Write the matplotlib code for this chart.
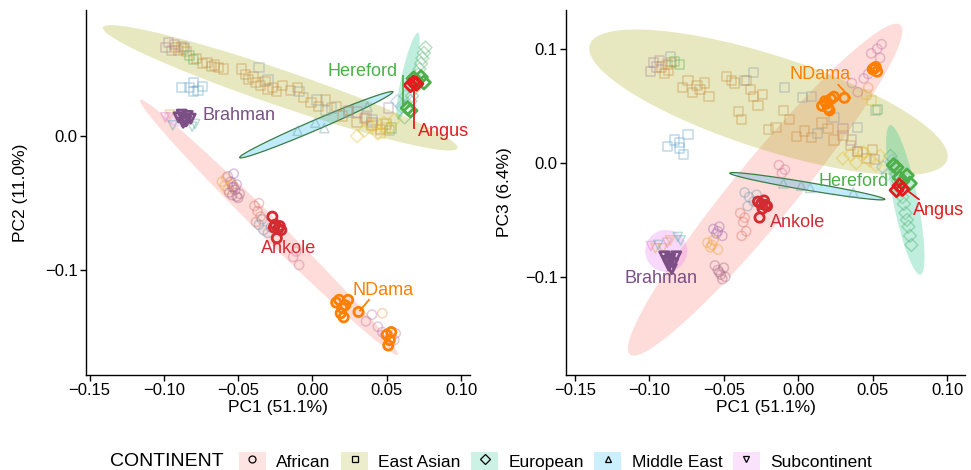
import numpy as np
import matplotlib
matplotlib.use("Agg")
import matplotlib.pyplot as plt
from matplotlib.lines import Line2D
from matplotlib.patches import Patch
from matplotlib.ticker import FuncFormatter

plt.rcParams['font.family'] = ['Liberation Sans', 'DejaVu Sans']

# ----------------------------------------------------------------------------
# values
# ----------------------------------------------------------------------------
continents = ["African", "East Asian", "European", "Middle East", "Subcontinent"]
continent_marker = {"African": "o", "East Asian": "s", "European": "D",
                    "Middle East": "^", "Subcontinent": "v"}

breed_continent = {
    "EA1": "East Asian", "EA2": "East Asian", "EA3": "East Asian",
    "EA4": "East Asian", "EA5": "East Asian", "EA6": "East Asian",
    "EU1": "European", "EU2": "European", "EU3": "European",
    "Hereford": "European", "Angus": "European",
    "ME1": "Middle East",
    "SC1": "Subcontinent", "SC2": "Subcontinent", "SC3": "Subcontinent",
    "Brahman": "Subcontinent",
    "AF1": "African", "AF2": "African", "AF3": "African", "AF4": "African",
    "AF5": "African", "AF6": "African", "AF7": "African", "AF8": "African",
    "Ankole": "African", "NDama": "African",
}
highlight = ["Brahman", "Ankole", "NDama", "Hereford", "Angus"]

pc1 = {
    "EA1": [-0.099, -0.097, -0.095, -0.093, 0.030, 0.036, 0.040, 0.051],
    "EA2": [-0.092, -0.090, -0.088, -0.087, -0.085,
            -0.078, -0.074, -0.071, -0.068, -0.066, -0.063, -0.060,
            -0.048, -0.045, -0.043, -0.040, -0.038, -0.035, -0.032, -0.030, -0.027, -0.024, -0.020,
            -0.015, -0.010, -0.006, -0.001, 0.004, 0.009,
            0.016, 0.020, 0.024, 0.030, 0.035, 0.040, 0.046, 0.050],
    "EA3": [-0.086, -0.036, -0.030, -0.009, 0.003, 0.009, 0.013, 0.024, 0.040, 0.052],
    "EA4": [-0.083, -0.080, 0.053],
    "EA5": [-0.088, -0.083, -0.080, -0.080, -0.074, -0.077],
    "EA6": [0.046, 0.049, 0.043],
    "EU1": [0.062, 0.064, 0.066, 0.067, 0.069, 0.070, 0.071, 0.072, 0.073, 0.074, 0.075, 0.076],
    "EU2": [0.030, 0.035, 0.039, 0.044, 0.048, 0.052, 0.055],
    "EU3": [0.057, 0.060, 0.063],
    "Hereford": [0.068, 0.070, 0.073, 0.075, 0.064, 0.066],
    "Angus": [0.066, 0.068, 0.070],
    "ME1": [-0.010, 0.002, 0.008, 0.037],
    "SC1": [-0.096, -0.091, -0.086],
    "SC2": [-0.081, -0.079, -0.094],
    "SC3": [-0.099, -0.088],
    "Brahman": [-0.090, -0.088, -0.086, -0.084, -0.082, -0.087, -0.085],
    "AF1": [-0.057, -0.055, -0.053, -0.051, -0.054],
    "AF2": [-0.061, -0.059, -0.057, -0.054, -0.058],
    "AF3": [-0.056, -0.054, -0.052, -0.050, -0.049, -0.053, -0.051],
    "AF4": [-0.039, -0.037, -0.035, -0.038, -0.036],
    "AF5": [-0.036, -0.033, -0.030, -0.028, -0.034],
    "AF6": [-0.013, -0.009, -0.011],
    "AF7": [0.036, 0.040, 0.044, 0.047, 0.049, 0.053, 0.055, 0.056],
    "AF8": [0.047],
    "Ankole": [-0.027, -0.025, -0.023, -0.022, -0.024, -0.026, -0.021],
    "NDama": [0.016, 0.018, 0.020, 0.022, 0.024, 0.019, 0.021, 0.031, 0.050, 0.052, 0.053, 0.051],
}
pc2 = {
    "EA1": [0.066, 0.070, 0.064, 0.068, 0.018, 0.014, 0.010, 0.021],
    "EA2": [0.066, 0.064, 0.067, 0.065, 0.063,
            0.058, 0.054, 0.055, 0.052, 0.053, 0.051, 0.050,
            0.050, 0.046, 0.042, 0.044, 0.040, 0.038, 0.041, 0.035, 0.036, 0.033, 0.038,
            0.034, 0.036, 0.029, 0.025, 0.022, 0.027,
            0.022, 0.015, 0.019, 0.010, 0.013, 0.008, 0.005, 0.009],
    "EA3": [0.066, 0.051, 0.042, 0.033, 0.027, 0.019, 0.021, 0.018, 0.012, 0.004],
    "EA4": [0.060, 0.057, 0.006],
    "EA5": [0.036, 0.036, 0.040, 0.033, 0.037, 0.034],
    "EA6": [0.002, 0.006, 0.009],
    "EU1": [0.014, 0.020, 0.026, 0.030, 0.036, 0.042, 0.046, 0.050, 0.054, 0.058, 0.062, 0.066],
    "EU2": [0.000, 0.004, 0.008, 0.002, 0.010, 0.006, 0.012],
    "EU3": [0.026, 0.022, 0.030],
    "Hereford": [0.043, 0.041, 0.044, 0.040, 0.021, 0.019],
    "Angus": [0.038, 0.040, 0.039],
    "ME1": [0.004, 0.010, 0.006, 0.022],
    "SC1": [0.016, 0.014, 0.012],
    "SC2": [0.007, 0.009, 0.008],
    "SC3": [0.014, 0.013],
    "Brahman": [0.014, 0.016, 0.012, 0.015, 0.013, 0.010, 0.011],
    "AF1": [-0.030, -0.034, -0.028, -0.036, -0.038],
    "AF2": [-0.034, -0.037, -0.040, -0.036, -0.031],
    "AF3": [-0.042, -0.044, -0.040, -0.046, -0.043, -0.038, -0.045],
    "AF4": [-0.052, -0.056, -0.060, -0.064, -0.050],
    "AF5": [-0.066, -0.070, -0.072, -0.068, -0.062],
    "AF6": [-0.090, -0.096, -0.086],
    "AF7": [-0.138, -0.133, -0.142, -0.146, -0.148, -0.150, -0.152, -0.147],
    "AF8": [-0.132],
    "Ankole": [-0.060, -0.066, -0.069, -0.067, -0.076, -0.068, -0.070],
    "NDama": [-0.124, -0.122, -0.128, -0.126, -0.122, -0.132, -0.135, -0.131, -0.148, -0.152, -0.146, -0.156],
}
pc3 = {
    "EA1": [0.080, 0.088, 0.084, 0.090, 0.030, 0.020, 0.010, 0.003],
    "EA2": [0.084, 0.078, 0.086, 0.081, 0.088,
            0.066, 0.072, 0.062, 0.068, 0.064, 0.070, 0.058,
            0.076, 0.072, 0.070, 0.045, 0.038, 0.072, 0.064, 0.058, 0.050, 0.060, 0.029,
            0.031, 0.046, 0.038, 0.023, 0.028, 0.022,
            0.035, 0.030, 0.020, 0.024, 0.015, 0.010, 0.004, 0.012],
    "EA3": [0.093, 0.072, 0.079, 0.066, 0.057, 0.058, 0.026, 0.040, 0.031, 0.046],
    "EA4": [0.089, 0.086, 0.047],
    "EA5": [0.014, 0.020, 0.018, 0.013, 0.025, 0.007],
    "EA6": [0.060, 0.055, 0.009],
    "EU1": [0.006, -0.002, -0.010, -0.016, -0.024, -0.030, -0.036, -0.044, -0.050, -0.056, -0.064, -0.072],
    "EU2": [0.004, 0.007, 0.000, 0.009, 0.002, -0.002, 0.006],
    "EU3": [-0.004, -0.010, 0.002],
    "Hereford": [-0.013, -0.016, -0.011, -0.018, -0.002, -0.004],
    "Angus": [-0.024, -0.020, -0.023],
    "ME1": [-0.018, -0.020, -0.022, -0.026],
    "SC1": [-0.075, -0.075, -0.068],
    "SC2": [-0.065, -0.068, -0.072],
    "SC3": [-0.073, -0.070],
    "Brahman": [-0.082, -0.086, -0.084, -0.088, -0.082, -0.090, -0.093],
    "AF1": [-0.058, -0.062, -0.056, -0.064, -0.060],
    "AF2": [-0.070, -0.074, -0.068, -0.076, -0.072],
    "AF3": [-0.090, -0.094, -0.098, -0.092, -0.100, -0.096, -0.102],
    "AF4": [-0.044, -0.052, -0.060, -0.064, -0.048],
    "AF5": [-0.026, -0.030, -0.034, -0.028, -0.038],
    "AF6": [-0.002, -0.006, -0.009],
    "AF7": [0.070, 0.062, 0.074, 0.078, 0.096, 0.100, 0.092, 0.104],
    "AF8": [0.066],
    "Ankole": [-0.034, -0.036, -0.033, -0.037, -0.040, -0.048, -0.038],
    "NDama": [0.050, 0.054, 0.048, 0.056, 0.058, 0.052, 0.046, 0.057, 0.082, 0.084, 0.080, 0.083],
}

ellipse_pc2 = {
    "African": ((-0.116, 0.027), (0.0575, -0.163), 0.058),
    "East Asian": ((-0.141, 0.081), (0.0976, -0.009), 0.095),
    "European": ((0.0575, 0.012), (0.071, 0.077), 0.14),
    "Middle East": ((-0.049, -0.016), (0.054, 0.033), 0.06),
    "Subcontinent": ((-0.100, 0.016), (-0.083, 0.009), 0.5),
}
ellipse_pc3 = {
    "African": ((-0.113, -0.168), (0.0685, 0.121), 0.145),
    "East Asian": ((-0.140, 0.1035), (0.100, 0.0026), 0.25),
    "European": ((0.0618, 0.033), (0.082, -0.098), 0.16),
    "Middle East": ((-0.046, -0.009), (0.058, -0.032), 0.05),
    "Subcontinent": ((-0.1028, -0.0772), (-0.0746, -0.0772), 1.0),
}

# breed labels: text position and optional leader segment
labels_pc2 = [
    ("Brahman", -0.0742, 0.0157, "left", None),
    ("Ankole", -0.016, -0.0836, "center", None),
    ("NDama", 0.0475, -0.115, "center", ((0.038, -0.122), (0.032, -0.130))),
    ("Hereford", 0.034, 0.0478, "center", ((0.0608, 0.045), (0.0608, 0.0224))),
    ("Angus", 0.088, 0.0037, "center", ((0.068, 0.038), (0.068, 0.006))),
]
labels_pc3 = [
    ("NDama", 0.0148, 0.0772, "center", ((0.0269, 0.0684), (0.035, 0.057))),
    ("Hereford", 0.037, -0.0167, "center", None),
    ("Angus", 0.094, -0.042, "center", ((0.073, -0.024), (0.081, -0.032))),
    ("Ankole", -0.0007, -0.0526, "center", None),
    ("Brahman", -0.092, -0.101, "center", None),
]

# ----------------------------------------------------------------------------
# styles
# ----------------------------------------------------------------------------
continent_fill = {"African": "#F8766D", "East Asian": "#A3A500", "European": "#00BF7D",
                  "Middle East": "#00B0F6", "Subcontinent": "#E76BF3"}
breed_colour = {
    "EA1": "#A87CA0", "EA2": "#C8873C", "EA3": "#8A9AA8", "EA4": "#4DAF4A",
    "EA5": "#5A9EC8", "EA6": "#E0B830",
    "EU1": "#4DAF6A", "EU2": "#E8C030", "EU3": "#70B0C8",
    "Hereford": "#4DAF4A", "Angus": "#E41A1C",
    "ME1": "#6A9A9A",
    "SC1": "#E0A030", "SC2": "#50A8A0", "SC3": "#E070B0", "Brahman": "#7B4F85",
    "AF1": "#9E5FB0", "AF2": "#F0A030", "AF3": "#A86080", "AF4": "#E07060",
    "AF5": "#6A98B0", "AF6": "#D07090", "AF7": "#C070A0", "AF8": "#F09040",
    "Ankole": "#D42A32", "NDama": "#FF7F00",
}


def fmt(decimals):
    return FuncFormatter(lambda v, _: f"{v:.{decimals}f}".replace("-", "\u2212"))


def draw_ellipse(ax, p1, p2, ratio, colour, edge=None):
    # build the ellipse in pixel space so the minor axis stays perpendicular
    d = ax.transData.transform(np.array([p1, p2]))
    c = d.mean(axis=0)
    a = (d[1] - d[0]) / 2
    b = np.array([-a[1], a[0]]) * ratio
    t = np.linspace(0, 2 * np.pi, 240)
    pts = c + np.outer(np.cos(t), a) + np.outer(np.sin(t), b)
    xy = ax.transData.inverted().transform(pts)
    ax.fill(xy[:, 0], xy[:, 1], color=colour, alpha=0.25, lw=0, zorder=1)
    if edge:
        ax.plot(xy[:, 0], xy[:, 1], color=edge, lw=0.9, zorder=1.1)


def draw_panel(ax, ys, ellipses, labels, xlim, ylim, yticks, ylabel, ypad):
    ax.set_xlim(*xlim)
    ax.set_ylim(*ylim)
    for cont in continents:
        p1, p2, r = ellipses[cont]
        draw_ellipse(ax, p1, p2, r, continent_fill[cont],
                     edge="#3A7D44" if cont == "Middle East" else None)

    for breed, cont in breed_continent.items():
        hi = breed in highlight
        ax.scatter(pc1[breed], ys[breed], marker=continent_marker[cont], s=44,
                   facecolors="none", edgecolors=breed_colour[breed],
                   linewidths=2.0 if hi else 1.1, alpha=1.0 if hi else 0.38,
                   zorder=4 if hi else 3)

    for name, x, y, ha, seg in labels:
        ax.text(x, y, name, color=breed_colour[name], fontsize=13, ha=ha, va="center",
                zorder=6)
        if seg:
            (x0, y0), (x1, y1) = seg
            ax.plot([x0, x1], [y0, y1], color=breed_colour[name], lw=1.3, zorder=5)

    for s in ["top", "right"]:
        ax.spines[s].set_visible(False)
    for s in ["left", "bottom"]:
        ax.spines[s].set_linewidth(1.0)
    ax.set_xticks([-0.15, -0.10, -0.05, 0.00, 0.05, 0.10])
    ax.xaxis.set_major_formatter(fmt(2))
    ax.set_yticks(yticks)
    ax.yaxis.set_major_formatter(fmt(1))
    ax.tick_params(direction="out", length=4, width=1, labelsize=12, pad=2, colors="black")
    ax.set_xlabel("PC1 (51.1%)", fontsize=12.5, labelpad=1)
    ax.set_ylabel(ylabel, fontsize=12.5, labelpad=ypad)


fig = plt.figure(figsize=(9.71, 4.70), dpi=100)
ax_l = fig.add_axes([86 / 971, 1 - 375 / 470, 384 / 971, 365 / 470])
ax_r = fig.add_axes([566 / 971, 1 - 375 / 470, 399 / 971, 365 / 470])

draw_panel(ax_l, pc2, ellipse_pc2, labels_pc2, (-0.1524, 0.106), (-0.178, 0.094),
           [-0.1, 0.0], "PC2 (11.0%)", 12)
draw_panel(ax_r, pc3, ellipse_pc3, labels_pc3, (-0.156, 0.112), (-0.186, 0.134),
           [-0.1, 0.0, 0.1], "PC3 (6.4%)", 9)

# legend at the bottom
handles = [(Patch(facecolor=continent_fill[c], alpha=0.2, lw=0),
            Line2D([], [], marker=continent_marker[c], ls="none", color="black",
                   mfc="none", ms=5, mew=0.9)) for c in continents]
fig.legend(handles, continents, loc="center left", ncol=5, frameon=False,
           bbox_to_anchor=(239 / 971, 1 - 461 / 470), fontsize=12.5,
           handlelength=1.55, handleheight=1.3, handletextpad=0.6,
           columnspacing=0.6, borderpad=0, borderaxespad=0)
fig.text(110 / 971, 1 - 461 / 470, "CONTINENT", fontsize=14, va="center", ha="left")

fig.savefig("out.png", dpi=100)
